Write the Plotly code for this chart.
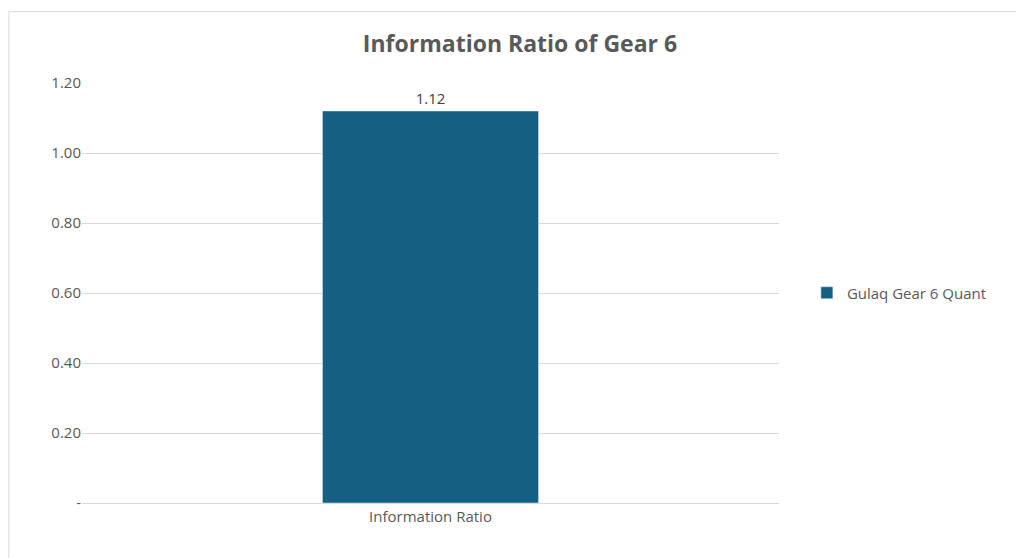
import plotly.graph_objects as go

categories = ["Information Ratio"]
values = [1.12]
series_name = "Gulaq Gear 6 Quant"
tick_vals = [0, 0.2, 0.4, 0.6, 0.8, 1.0, 1.2]
tick_text = ["-", "0.20", "0.40", "0.60", "0.80", "1.00", "1.20"]

fig = go.Figure(go.Bar(
    x=categories, y=values, name=series_name, marker_color="#156082",
    text=[f"{v:.2f}" for v in values], textposition="outside",
    textfont=dict(size=15, color="#404040"), cliponaxis=False, showlegend=True))

fig.update_layout(
    width=1024, height=558, paper_bgcolor="white", plot_bgcolor="white",
    font=dict(family="Open Sans, sans-serif", color="#595959", size=14),
    title=dict(text="<b>Information Ratio of Gear 6</b>", x=0.5, xanchor="center",
               y=0.935, yanchor="middle", font=dict(size=23, color="#595959")),
    margin=dict(l=74, r=253, t=75, b=63),
    bargap=0.69,
    legend=dict(x=1.04, y=0.5, xanchor="left", yanchor="middle", font=dict(size=15)),
    shapes=[dict(type="rect", xref="paper", yref="paper", x0=-0.105, x1=1.35,
                 y0=-0.14, y1=1.17, line=dict(color="#d9d9d9", width=1))],
)
fig.update_yaxes(range=[0, 1.2], tickvals=tick_vals, ticktext=tick_text,
                 gridcolor="#d9d9d9", zeroline=False, showline=False,
                 tickfont=dict(size=15), ticks="", ticklen=0, automargin=False)
fig.update_xaxes(showline=True, linecolor="#d9d9d9", tickfont=dict(size=15))
fig.write_html("out.html")
